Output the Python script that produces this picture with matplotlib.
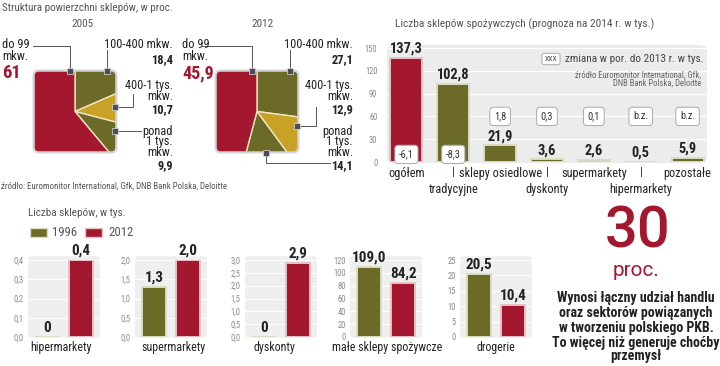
import matplotlib

matplotlib.use("Agg")
import matplotlib.pyplot as plt
import numpy as np
from matplotlib import font_manager as fm
from matplotlib.patches import FancyBboxPatch, Rectangle
from matplotlib.ticker import FuncFormatter

# condensed face if one is around, plain sans otherwise
_have = {f.name for f in fm.fontManager.ttflist}
_cands = ["Roboto Condensed", "Barlow Semi Condensed", "Archivo Narrow", "Liberation Sans Narrow",
          "Roboto", "DejaVu Sans"]
FONTS = [f for f in _cands if f in _have] or ["DejaVu Sans"]
if "DejaVu Sans" not in FONTS:
    FONTS.append("DejaVu Sans")
plt.rcParams["font.family"] = FONTS
BIG_FONTS = [f for f in ["Roboto", "Open Sans", "DejaVu Sans"] if f in _have] or ["DejaVu Sans"]

W, H = 720, 366
RED = "#a3172f"
OLIVE = "#6b6a27"
GOLD = "#c8a227"
GREY = "#555555"
DARK = "#222222"
MARK = "#4d4d5a"

# --- data -------------------------------------------------------------
pie_2005 = [18.4, 10.7, 9.9, 61]
pie_2012 = [27.1, 12.9, 14.1, 45.9]
pie_colors = [OLIVE, GOLD, OLIVE, RED]

shop_cats = ["ogółem", "tradycyjne", "sklepy osiedlowe", "dyskonty",
             "supermarkety", "hipermarkety", "pozostałe"]
shop_2014 = [137.3, 102.8, 21.9, 3.6, 2.6, 0.5, 5.9]
shop_change = ["-6,1", "-8,3", "1,8", "0,3", "0,1", "b.z.", "b.z."]

small_cats = ["hipermarkety", "supermarkety", "dyskonty",
              "małe sklepy spożywcze", "drogerie"]
small_1996 = [0, 1.3, 0, 109.0, 20.5]
small_2012 = [0.4, 2.0, 2.9, 84.2, 10.4]
small_ticks = [np.arange(0, 0.41, 0.1), np.arange(0, 2.01, 0.5), np.arange(0, 3.01, 0.5),
               np.arange(0, 121, 20), np.arange(0, 26, 5)]
small_lab_1996 = ["0", "1,3", "0", "109,0", "20,5"]
small_lab_2012 = ["0,4", "2,0", "2,9", "84,2", "10,4"]

blurb = ["Wynosi łączny udział handlu", "oraz sektorów powiązanych",
         "w tworzeniu polskiego PKB.", "To więcej niż generuje choćby", "przemysł"]


def box(x0, y0, x1, y1):
    return [x0 / W, 1 - y1 / H, (x1 - x0) / W, (y1 - y0) / H]


def comma(v, _pos=None, dec=1):
    return f"{v:.{dec}f}".replace(".", ",")


fig = plt.figure(figsize=(W / 100, H / 100), dpi=100)
fig.patch.set_facecolor("white")
R = fig.canvas.get_renderer()


def size_for(s, width_px, **kw):
    """font size that makes string s about width_px wide"""
    t = fig.text(0, 0, s, fontsize=10, **kw)
    w = t.get_window_extent(R).width
    t.remove()
    return 10 * width_px / w


# text sizes fitted to the widths measured on the reference
FS_TITLE = size_for("Struktura powierzchni sklepów, w proc.", 170)
FS_LAB = size_for("100-400 mkw.", 68)
FS_VAL = size_for("18,4", 22, fontweight="bold")
FS_CAT = size_for("sklepy osiedlowe", 82)
FS_BARVAL = size_for("137,3", 33, fontweight="bold")
FS_SMALLVAL = size_for("2,0", 19, fontweight="bold")
FS_SMALLCAT = size_for("małe sklepy spożywcze", 109)
FS_BLURB = size_for(blurb[0], 158, fontweight="bold")


# --- square pies ------------------------------------------------------
def square_pie(rect, vals):
    ax = fig.add_axes(box(*rect))
    wedges, _ = ax.pie(vals, colors=pie_colors, startangle=90, counterclock=False, radius=2,
                       wedgeprops=dict(edgecolor="#f4e4c4", linewidth=1.0))
    clip = FancyBboxPatch((-1, -1), 2, 2, boxstyle="round,pad=0,rounding_size=0.12",
                          facecolor="none", edgecolor="none")
    ax.add_patch(clip)
    for w in wedges:
        w.set_clip_on(True)
        w.set_clip_path(clip)
    ax.add_patch(FancyBboxPatch((-1, -1), 2, 2, boxstyle="round,pad=0,rounding_size=0.12",
                                facecolor="none", edgecolor="#d4d4d4", linewidth=1.6, zorder=5))
    ax.set_xlim(-1.04, 1.04)
    ax.set_ylim(-1.04, 1.04)
    ax.set_aspect("auto")
    ax.axis("off")


square_pie((32, 69, 118, 154), pie_2005)
square_pie((214, 69, 300, 154), pie_2012)

# --- top-right bar chart ----------------------------------------------
ax = fig.add_axes(box(383, 48, 711, 162))
x = np.arange(len(shop_cats))
ax.add_patch(FancyBboxPatch((0.012, -0.01), 0.976, 1.04, boxstyle="round,pad=0,rounding_size=0.04",
                            transform=ax.transAxes, facecolor="#ececec", edgecolor="none",
                            clip_on=False, zorder=0))
for gy in range(30, 151, 30):
    ax.axhline(gy, color="white", linewidth=0.8, zorder=1)
cols = [RED] + [OLIVE] * (len(shop_cats) - 1)
edges = ["#e6c2c6"] + ["#dcdcc4"] * (len(shop_cats) - 1)
ax.bar(x, shop_2014, width=0.68, color=cols, edgecolor=edges, linewidth=1.4, zorder=2)
for xi, v in zip(x, shop_2014):
    ax.annotate(comma(v), (xi, v), xytext=(0, 1.5), textcoords="offset points", ha="center",
                va="bottom", fontsize=FS_BARVAL, fontweight="bold", color=DARK, zorder=4)
for xi, c in zip(x, shop_change):
    yy = 10 if xi < 2 else 60
    ax.text(xi, yy, c, ha="center", va="center", fontsize=FS_CAT * 0.85, color="#333333", zorder=5,
            bbox=dict(boxstyle="round,pad=0.4,rounding_size=0.3", facecolor="white",
                      edgecolor="#aaaaaa", linewidth=0.7))
ax.set_xlim(-0.5, 6.5)
ax.set_ylim(0, 150)
ax.set_yticks(range(0, 151, 30))
ax.tick_params(axis="y", length=0, labelsize=FS_CAT * 0.7, labelcolor="#8a8a8a", pad=4)
ax.set_xticks([])
ax.patch.set_visible(False)
for s in ax.spines.values():
    s.set_visible(False)
for xi, c in zip(x, shop_cats):
    ax.annotate(c, (xi, 0), xytext=(0, -8 if xi % 2 == 0 else -20), textcoords="offset points",
                ha="center", va="center", fontsize=FS_CAT, color=DARK, annotation_clip=False)
    if xi % 2 == 1 and xi < 6:
        ax.plot([xi, xi], [-6, -19], color="#444444", linewidth=0.7, clip_on=False)

# --- small bar charts -------------------------------------------------
small_rects = [(28, 100), (135, 207), (245, 317), (350, 422), (460, 532)]
label_x = [61, 173, 274, 387, 496]
for i, (x0, x1) in enumerate(small_rects):
    sa = fig.add_axes(box(x0, 260, x1, 337))
    top = small_ticks[i][-1]
    sa.add_patch(FancyBboxPatch((0.0, -0.01), 1.0, 1.06, boxstyle="round,pad=0,rounding_size=0.05",
                                transform=sa.transAxes, facecolor="#efefef", edgecolor="none",
                                clip_on=False, zorder=0))
    for t in small_ticks[i][1:]:
        sa.axhline(t, color="white", linewidth=0.8, zorder=1)
    sa.bar([0, 1], [small_1996[i], small_2012[i]], width=0.68, color=[OLIVE, RED],
           edgecolor=["#dcdcc4", "#e6c2c6"], linewidth=1.4, zorder=2)
    for xi, v, lab in zip([0, 1], [small_1996[i], small_2012[i]], [small_lab_1996[i], small_lab_2012[i]]):
        sa.annotate(lab, (xi, v), xytext=(0, 1.5), textcoords="offset points", ha="center",
                    va="bottom", fontsize=FS_SMALLVAL, fontweight="bold", color=DARK,
                    annotation_clip=False, zorder=4)
    sa.set_xlim(-0.55, 1.55)
    sa.set_ylim(0, top)
    sa.set_yticks(small_ticks[i])
    dec = 0 if top >= 25 else 1
    sa.yaxis.set_major_formatter(FuncFormatter(lambda v, p, d=dec: comma(v, dec=d)))
    sa.tick_params(axis="y", length=0, labelsize=FS_CAT * 0.7, labelcolor="#8a8a8a", pad=3)
    sa.set_xticks([])
    sa.patch.set_visible(False)
    for s in sa.spines.values():
        s.set_visible(False)

# --- overlay: texts, callouts -----------------------------------------
ov = fig.add_axes([0, 0, 1, 1])
ov.set_xlim(0, W)
ov.set_ylim(H, 0)
ov.axis("off")
ov.patch.set_visible(False)

ov.text(2, 8, "Struktura powierzchni sklepów, w proc.", fontsize=FS_TITLE, color=GREY, va="center")
ov.text(83, 24, "2005", fontsize=FS_TITLE, color=GREY, ha="center", va="center")
ov.text(263, 24, "2012", fontsize=FS_TITLE, color=GREY, ha="center", va="center")
ov.text(1, 186, "źródło: Euromonitor International, Gfk, DNB Bank Polska, Deloitte",
        fontsize=size_for("źródło: Euromonitor International, Gfk, DNB Bank Polska, Deloitte", 225),
        color=GREY, va="center")

lw = 0.7
lc = "#555555"


def callouts(dx, big, big_w, v1, v2, v3):
    ov.text(2 + dx, 45, "do 99", fontsize=FS_LAB, va="center", color=DARK)
    ov.text(2 + dx, 56, "mkw.", fontsize=FS_LAB, va="center", color=DARK)
    ov.text(2 + dx, 73, big, fontsize=size_for(big, big_w, fontweight="bold"), fontweight="bold",
            color=RED, va="center")
    rx = 173 + dx
    for yy, s in [(45, "100-400 mkw."), (85, "400-1 tys."), (97, "mkw."),
                  (132, "ponad"), (142, "1 tys."), (153, "mkw.")]:
        ov.text(rx, yy, s, fontsize=FS_LAB, ha="right", va="center", color=DARK)
    for yy, s in [(60, v1), (110, v2), (166, v3)]:
        ov.text(rx, yy, s, fontsize=FS_VAL, fontweight="bold", ha="right", va="center", color=DARK)


callouts(0, "61", 19, "18,4", "10,7", "9,9")
callouts(180, "45,9", 32, "27,1", "12,9", "14,1")

# 2005 connectors
ov.plot([33, 70, 70], [46, 46, 71], color=lc, lw=lw)
ov.plot([107, 107], [50, 71], color=lc, lw=lw)
ov.plot([115, 133, 133], [107, 107, 94], color=lc, lw=lw)
ov.plot([115, 141], [131, 131], color=lc, lw=lw)
# 2012 connectors
ov.plot([202, 252, 252], [46, 46, 71], color=lc, lw=lw)
ov.plot([290, 290], [50, 71], color=lc, lw=lw)
ov.plot([297, 316, 316], [126, 126, 107], color=lc, lw=lw)
ov.plot([266, 266, 330], [153, 163, 163], color=lc, lw=lw)
mx = [70, 107, 115, 115, 252, 290, 297, 266]
my = [71, 71, 107, 131, 71, 71, 126, 153]
ov.scatter(mx, my, marker="s", s=14, color=MARK, edgecolors="#dddddd", linewidths=0.5, zorder=6)

# top-right chart texts
t2 = "Liczba sklepów spożywczych (prognoza na 2014 r. w tys.)"
ov.text(395, 24, t2, fontsize=size_for(t2, 257), color=GREY, va="center")
ov.text(551, 59, "XXX", fontsize=5.5, color="#444444", ha="center", va="center",
        bbox=dict(boxstyle="round,pad=0.35,rounding_size=0.3", facecolor="white",
                  edgecolor="#aaaaaa", linewidth=0.7))
t3 = "zmiana w por. do 2013 r. w tys."
ov.text(565, 59, t3, fontsize=size_for(t3, 138), color="#444444", va="center")
t4 = "źródło Euromonitor International, Gfk,"
fs4 = size_for(t4, 127)
ov.text(701, 75, t4, fontsize=fs4, color="#666666", ha="right", va="center")
ov.text(701, 83, "DNB Bank Polska, Deloitte", fontsize=fs4, color="#666666", ha="right", va="center")

# bottom-left header and legend
t5 = "Liczba sklepów, w tys."
ov.text(28, 213, t5, fontsize=size_for(t5, 97), color=GREY, va="center")
fs_leg = size_for("1996", 25)
ov.add_patch(Rectangle((30, 228), 17, 9, facecolor=OLIVE, edgecolor="#dcdcc4", lw=1))
ov.text(52, 233, "1996", fontsize=fs_leg, color=GREY, va="center")
ov.add_patch(Rectangle((85, 228), 17, 9, facecolor=RED, edgecolor="#e6c2c6", lw=1))
ov.text(108, 233, "2012", fontsize=fs_leg, color=GREY, va="center")
for lx, c in zip(label_x, small_cats):
    ov.text(lx, 348, c, fontsize=FS_SMALLCAT, color=DARK, ha="center", va="center")

# big figure
ov.text(638, 247, "30", fontsize=size_for("30", 65, family=BIG_FONTS, fontweight="medium"),
        family=BIG_FONTS, fontweight="medium", color=RED, ha="center", va="baseline")
ov.text(636, 276, "proc.", fontsize=size_for("proc.", 47, family=BIG_FONTS), family=BIG_FONTS,
        color=RED, ha="center", va="baseline")
for yy, line in zip([298, 313, 328, 343, 356], blurb):
    ov.text(636, yy, line, fontsize=FS_BLURB, fontweight="bold", color=DARK, ha="center", va="center")

fig.savefig("out.png", dpi=100, facecolor="white")
